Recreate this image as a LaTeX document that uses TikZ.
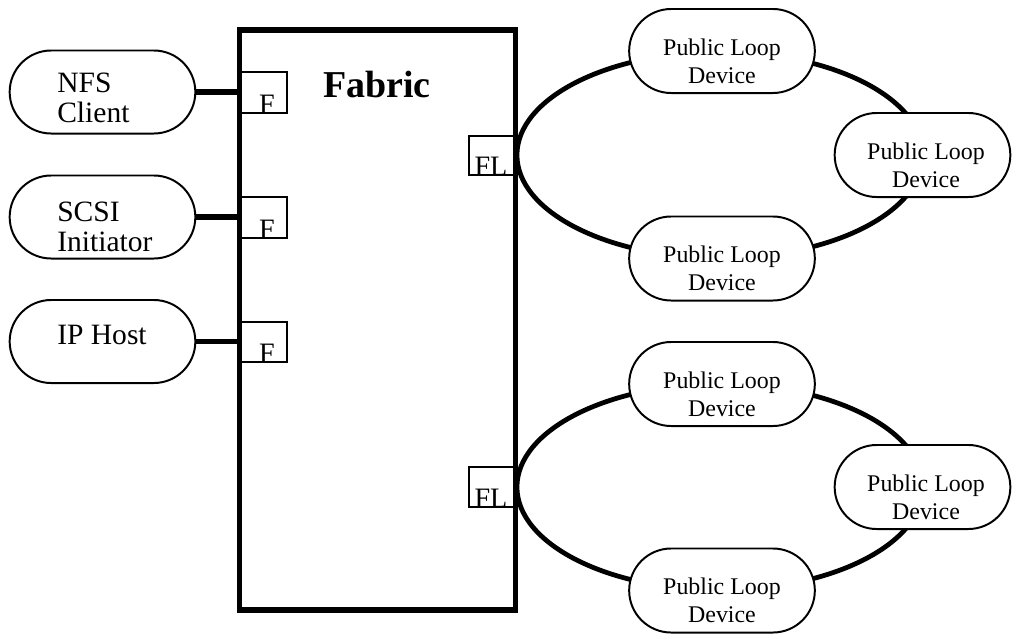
\documentclass[tikz,border=0pt]{standalone}
\usepackage{fontspec}
\setmainfont{Liberation Serif}
\usepackage{tikz}
\usetikzlibrary{positioning,shapes.misc,shapes.geometric}

\tikzset{
  hostpill/.style={rounded rectangle,draw,line width=1.4pt,fill=white,
    minimum width=4.875cm,minimum height=2.075cm},
  devpill/.style={rounded rectangle,draw,line width=1.4pt,fill=white,
    minimum width=4.875cm,minimum height=2.1cm},
  hosttext/.style={anchor=north west,inner sep=0pt,align=left,
    font=\fontsize{21}{21.3}\selectfont},
  devtext/.style={inner sep=0pt,align=center,font=\fontsize{17}{20}\selectfont},
  portlabel/.style={anchor=base,inner sep=0pt,font=\fontsize{20}{24}\selectfont},
  portbox/.style={line width=2pt},
  hostlink/.style={line width=4.2pt},
  loopring/.style={ellipse,draw,line width=3.4pt,inner sep=0pt,
    minimum width=10.15cm,minimum height=5.15cm},
}

\begin{document}
\begin{tikzpicture}[x=0.025cm,y=-0.025cm]
\useasboundingbox (0,0) rectangle (1013,633);

% the two loops
\node[loopring] (loopA) at (720,155) {};
\node[loopring] (loopB) at (720,487) {};

% fabric
\node[draw,line width=4pt,inner sep=0pt,minimum width=6.9cm,minimum height=14.5cm] (fabric) at (377.5,320) {};
\node[anchor=base,inner sep=0pt,font=\bfseries\fontsize{27}{32}\selectfont] (title) at (377,97) {Fabric};

% hosts on the left
\node[hostpill] (nfs) at (102.5,92) {};
\node[hosttext] (nfstext) at (57,73) {NFS\\Client};
\node[hostpill] (scsi) at (102.5,217) {};
\node[hosttext] (scsitext) at (57,202) {SCSI\\Initiator};
\node[hostpill] (iphost) at (102.5,341.5) {};
\node[hosttext] (iptext) at (57,325) {IP Host};

\draw[hostlink] (nfs.east) -- (nfs.east -| fabric.west);
\draw[hostlink] (scsi.east) -- (scsi.east -| fabric.west);
\draw[hostlink] (iphost.east) -- (iphost.east -| fabric.west);

% F ports
\node[portlabel] (fnfs) at (267,113) {F};
\draw[portbox] (fabric.west |- 0,72) -| (287,113) -- (fabric.west |- 0,113);
\node[portlabel] (fscsi) at (267,238) {F};
\draw[portbox] (fabric.west |- 0,197) -| (287,238) -- (fabric.west |- 0,238);
\node[portlabel] (fip) at (267,362) {F};
\draw[portbox] (fabric.west |- 0,322) -| (287,362) -- (fabric.west |- 0,362);

% FL ports
\node[portlabel] (flA) at (491,175) {FL};
\draw[portbox] (fabric.east |- 0,136) -| (469,175) -- (fabric.east |- 0,175);
\node[portlabel] (flB) at (491,507) {FL};
\draw[portbox] (fabric.east |- 0,467) -| (469,507) -- (fabric.east |- 0,507);

% devices on loop A
\node[devpill] (devA1) at (722,51) {};
\node[devtext] at (722,61) {Public Loop\\Device};
\node[devpill,minimum width=4.625cm] (devA2) at (922.5,155) {};
\node[devtext] at (926,165) {Public Loop\\Device};
\node[devpill] (devA3) at (722,258.5) {};
\node[devtext] at (722,268.5) {Public Loop\\Device};

% devices on loop B
\node[devpill] (devB1) at (722,384) {};
\node[devtext] at (722,394) {Public Loop\\Device};
\node[devpill,minimum width=4.625cm] (devB2) at (922.5,487) {};
\node[devtext] at (926,497) {Public Loop\\Device};
\node[devpill] (devB3) at (722,590.5) {};
\node[devtext] at (722,600.5) {Public Loop\\Device};
\end{tikzpicture}
\end{document}
